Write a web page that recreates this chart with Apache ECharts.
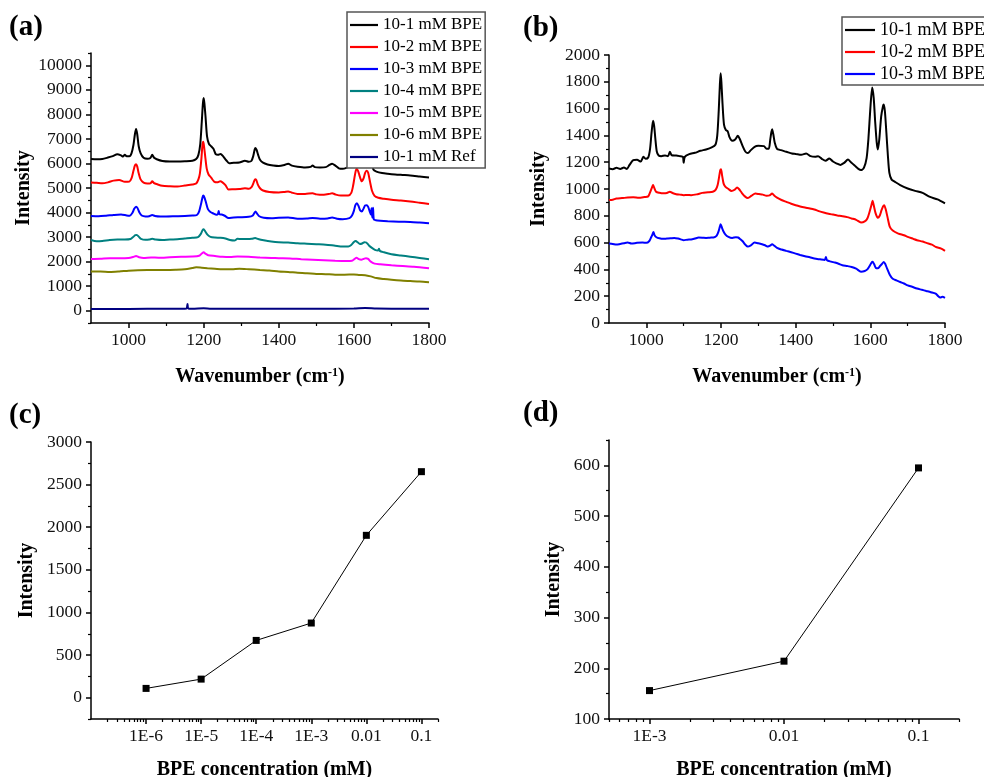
<!DOCTYPE html>
<html><head><meta charset="utf-8">
<script src="https://cdn.jsdelivr.net/npm/echarts@6/dist/echarts.min.js"></script>
<style>html,body{margin:0;padding:0;background:#fff}#c{width:984px;height:777px}</style>
</head><body><div id="c"></div>
<script>
// ---------- Panel (a): SERS spectra, [wavenumber, intensity] ----------
const aNames = ['10-1 mM BPE','10-2 mM BPE','10-3 mM BPE','10-4 mM BPE','10-5 mM BPE','10-6 mM BPE','10-1 mM Ref'];
const a1 = [[900,6177],[915,6170],[930,6180],[945,6240],[958,6300],[970,6380],[980,6330],[985,6280],[990,6350],[995,6290],[1002,6290],[1008,6420],[1013,6750],[1017,7200],[1020,7400],[1023,7200],[1027,6700],[1032,6420],[1040,6230],[1050,6190],[1058,6220],[1063,6350],[1068,6230],[1075,6170],[1090,6100],[1110,6080],[1130,6080],[1150,6090],[1170,6110],[1180,6180],[1186,6350],[1191,6800],[1195,7700],[1198,8450],[1200,8670],[1202,8450],[1205,7900],[1209,7100],[1214,6800],[1220,6700],[1226,6600],[1232,6380],[1238,6350],[1245,6390],[1252,6290],[1260,6130],[1268,6010],[1280,6030],[1295,6040],[1310,6110],[1320,6070],[1327,6100],[1332,6300],[1336,6580],[1338,6630],[1341,6550],[1345,6350],[1350,6150],[1358,6030],[1370,5960],[1385,5920],[1400,5900],[1415,5940],[1425,5990],[1435,5910],[1450,5870],[1470,5840],[1485,5860],[1490,5920],[1496,5850],[1510,5840],[1525,5850],[1535,5940],[1542,5990],[1550,5920],[1560,5800],[1570,5780],[1580,5820],[1590,5900],[1598,6300],[1604,7100],[1608,7450],[1613,7100],[1620,6700],[1627,7000],[1634,7300],[1640,7000],[1646,6200],[1652,5750],[1660,5670],[1675,5610],[1690,5580],[1710,5550],[1730,5530],[1750,5510],[1775,5470],[1800,5430]];
const a2 = [[900,5220],[915,5210],[930,5190],[945,5230],[960,5300],[975,5330],[990,5250],[1002,5260],[1008,5400],[1013,5700],[1017,5920],[1020,5970],[1023,5880],[1027,5600],[1032,5350],[1040,5220],[1050,5180],[1058,5190],[1063,5270],[1068,5200],[1075,5160],[1090,5090],[1110,5070],[1130,5060],[1150,5100],[1170,5140],[1180,5180],[1186,5350],[1190,5600],[1194,6200],[1197,6800],[1199,6880],[1201,6700],[1204,6300],[1208,5800],[1213,5550],[1220,5420],[1228,5260],[1236,5230],[1244,5270],[1250,5230],[1258,5120],[1266,4940],[1280,4950],[1295,4960],[1310,4990],[1320,4970],[1328,5050],[1333,5220],[1337,5360],[1340,5330],[1344,5150],[1350,4990],[1358,4900],[1375,4840],[1400,4820],[1415,4840],[1425,4860],[1435,4810],[1450,4760],[1470,4760],[1490,4790],[1500,4740],[1520,4720],[1535,4760],[1542,4790],[1552,4730],[1565,4690],[1585,4690],[1593,4800],[1598,5100],[1603,5550],[1607,5780],[1611,5700],[1616,5450],[1621,5270],[1626,5400],[1630,5620],[1634,5700],[1638,5620],[1643,5250],[1648,4900],[1655,4680],[1665,4600],[1680,4560],[1700,4520],[1725,4490],[1750,4450],[1775,4400],[1800,4350]];
const a3 = [[900,3860],[920,3850],[940,3870],[960,3900],[980,3920],[995,3880],[1003,3870],[1010,3980],[1015,4150],[1020,4240],[1024,4180],[1029,4000],[1035,3880],[1045,3840],[1055,3850],[1063,3900],[1070,3860],[1085,3840],[1100,3840],[1125,3850],[1150,3860],[1170,3880],[1182,3900],[1188,4050],[1193,4350],[1197,4620],[1199,4690],[1202,4620],[1206,4420],[1211,4150],[1218,4020],[1226,3960],[1234,3910],[1238,3940],[1240,4060],[1242,3930],[1248,3920],[1256,3870],[1266,3780],[1280,3800],[1300,3810],[1320,3830],[1330,3870],[1335,3980],[1338,4040],[1342,3960],[1348,3850],[1360,3790],[1380,3770],[1400,3790],[1425,3800],[1450,3750],[1475,3760],[1490,3780],[1510,3750],[1530,3760],[1542,3800],[1555,3750],[1570,3730],[1588,3770],[1595,3880],[1600,4070],[1604,4300],[1608,4380],[1612,4280],[1617,4080],[1621,4040],[1626,4170],[1630,4290],[1634,4300],[1638,4230],[1642,4050],[1645,3920],[1647,4180],[1649,3800],[1651,4200],[1653,3720],[1658,3690],[1670,3670],[1690,3650],[1720,3630],[1750,3610],[1775,3590],[1800,3560]];
const a4 = [[900,2880],[915,2830],[930,2840],[950,2880],[970,2900],[990,2900],[1005,2920],[1012,3000],[1018,3080],[1022,3090],[1027,3020],[1033,2930],[1045,2890],[1055,2900],[1063,2930],[1072,2900],[1090,2880],[1110,2900],[1130,2910],[1150,2940],[1170,2970],[1185,3000],[1192,3120],[1197,3280],[1200,3320],[1204,3240],[1210,3100],[1218,3010],[1230,2980],[1245,2970],[1258,2940],[1270,2880],[1282,2860],[1290,2930],[1300,2920],[1315,2920],[1328,2930],[1337,2960],[1345,2920],[1360,2870],[1380,2820],[1400,2790],[1425,2780],[1450,2750],[1475,2730],[1500,2710],[1525,2690],[1550,2650],[1570,2620],[1585,2620],[1593,2680],[1600,2800],[1605,2840],[1610,2790],[1616,2720],[1622,2740],[1628,2790],[1633,2780],[1640,2660],[1648,2560],[1656,2480],[1664,2450],[1667,2530],[1669,2440],[1680,2380],[1700,2300],[1725,2250],[1750,2200],[1775,2150],[1800,2100]];
const a5 = [[900,2110],[925,2120],[950,2140],[975,2140],[1000,2150],[1012,2190],[1020,2230],[1028,2180],[1040,2150],[1060,2170],[1080,2160],[1110,2180],[1140,2200],[1170,2210],[1188,2240],[1195,2330],[1200,2380],[1205,2320],[1212,2260],[1230,2230],[1250,2200],[1270,2190],[1290,2210],[1320,2200],[1350,2170],[1380,2150],[1400,2140],[1430,2130],[1460,2100],[1490,2080],[1520,2060],[1550,2040],[1580,2030],[1595,2040],[1602,2110],[1607,2160],[1613,2100],[1620,2080],[1626,2110],[1632,2140],[1638,2110],[1645,2000],[1655,1920],[1670,1890],[1700,1850],[1730,1820],[1760,1790],[1800,1730]];
const a6 = [[900,1600],[925,1600],[950,1580],[975,1600],[1000,1630],[1025,1650],[1050,1660],[1075,1660],[1100,1660],[1125,1670],[1150,1690],[1170,1740],[1180,1770],[1195,1750],[1210,1730],[1230,1710],[1250,1690],[1275,1690],[1295,1710],[1320,1690],[1350,1660],[1375,1640],[1400,1600],[1425,1580],[1450,1550],[1475,1530],[1500,1500],[1525,1490],[1550,1470],[1575,1470],[1600,1480],[1615,1460],[1630,1450],[1645,1400],[1660,1330],[1680,1290],[1700,1260],[1725,1230],[1750,1210],[1775,1190],[1800,1160]];
const a7 = [[900,70],[1000,75],[1100,80],[1150,80],[1155,100],[1157,270],[1159,90],[1170,80],[1200,100],[1220,85],[1300,85],[1400,80],[1500,80],[1600,90],[1630,110],[1660,90],[1700,85],[1800,85]];

// ---------- Panel (b) ----------
const bNames = ['10-1 mM BPE','10-2 mM BPE','10-3 mM BPE'];
const b1 = [[900,1153],[910,1148],[920,1158],[930,1150],[940,1160],[948,1150],[955,1180],[965,1215],[975,1218],[985,1205],[992,1240],[998,1225],[1005,1235],[1010,1300],[1014,1420],[1018,1509],[1021,1470],[1024,1380],[1028,1280],[1033,1250],[1040,1245],[1050,1250],[1058,1245],[1063,1278],[1068,1252],[1080,1250],[1090,1245],[1098,1240],[1100,1195],[1103,1240],[1115,1260],[1130,1270],[1145,1285],[1160,1295],[1175,1310],[1185,1330],[1190,1400],[1194,1589],[1197,1780],[1199,1863],[1201,1800],[1204,1640],[1208,1480],[1213,1440],[1218,1430],[1223,1385],[1230,1360],[1238,1370],[1245,1397],[1250,1375],[1258,1320],[1265,1280],[1272,1268],[1280,1290],[1290,1315],[1300,1322],[1315,1320],[1322,1300],[1328,1300],[1332,1370],[1335,1425],[1337,1445],[1340,1410],[1344,1345],[1350,1300],[1360,1290],[1375,1278],[1390,1265],[1400,1262],[1415,1255],[1428,1265],[1440,1245],[1452,1240],[1460,1245],[1470,1225],[1480,1210],[1490,1228],[1500,1205],[1510,1190],[1520,1180],[1530,1195],[1540,1220],[1548,1200],[1558,1175],[1568,1150],[1575,1141],[1583,1160],[1590,1230],[1595,1380],[1600,1600],[1605,1758],[1609,1680],[1613,1500],[1617,1350],[1620,1295],[1624,1370],[1629,1540],[1634,1620],[1636,1631],[1639,1580],[1643,1420],[1647,1250],[1651,1120],[1657,1070],[1665,1055],[1680,1029],[1700,1004],[1720,986],[1740,971],[1760,941],[1780,922],[1800,892]];
const b2 = [[900,917],[910,920],[920,929],[935,932],[950,936],[965,938],[980,934],[995,940],[1005,945],[1010,975],[1015,1010],[1018,1029],[1021,1010],[1026,980],[1035,972],[1045,968],[1055,970],[1063,980],[1070,970],[1080,961],[1090,958],[1100,954],[1110,955],[1120,954],[1135,960],[1150,971],[1165,975],[1178,980],[1186,995],[1191,1030],[1195,1091],[1198,1140],[1200,1148],[1203,1100],[1207,1040],[1212,1016],[1220,1000],[1228,985],[1237,995],[1243,1011],[1248,1000],[1256,970],[1264,945],[1272,932],[1282,950],[1292,966],[1302,962],[1312,958],[1322,950],[1330,952],[1337,966],[1343,950],[1350,936],[1362,918],[1375,904],[1388,890],[1400,879],[1412,870],[1425,862],[1438,855],[1450,847],[1462,835],[1475,824],[1488,815],[1500,809],[1512,803],[1525,797],[1538,790],[1550,780],[1562,770],[1575,750],[1585,758],[1592,780],[1598,830],[1603,880],[1606,912],[1609,880],[1614,820],[1620,785],[1625,800],[1630,842],[1634,870],[1637,879],[1641,850],[1646,790],[1652,720],[1660,690],[1675,667],[1690,655],[1700,643],[1715,628],[1725,618],[1740,608],[1750,598],[1765,585],[1775,568],[1790,555],[1800,538]];
const b3 = [[900,593],[910,590],[920,585],[930,590],[940,595],[950,600],[960,593],[975,598],[990,600],[1000,598],[1008,612],[1013,640],[1017,665],[1019,680],[1022,655],[1027,640],[1035,632],[1045,628],[1055,630],[1065,632],[1075,635],[1085,630],[1095,622],[1100,618],[1110,622],[1120,623],[1130,630],[1140,638],[1150,637],[1160,635],[1170,637],[1180,638],[1188,650],[1193,680],[1197,720],[1199,737],[1202,715],[1206,687],[1212,660],[1220,643],[1230,635],[1240,640],[1246,638],[1252,625],[1258,610],[1265,585],[1272,570],[1280,580],[1290,600],[1300,595],[1310,588],[1318,580],[1326,570],[1332,578],[1337,588],[1342,578],[1350,560],[1362,548],[1375,538],[1388,528],[1400,518],[1412,508],[1425,498],[1438,490],[1450,481],[1465,475],[1478,470],[1481,493],[1484,468],[1495,458],[1505,451],[1515,442],[1525,431],[1538,425],[1550,418],[1562,405],[1575,383],[1585,388],[1592,400],[1598,425],[1603,450],[1606,457],[1610,440],[1615,410],[1620,408],[1626,425],[1631,440],[1636,456],[1640,440],[1645,405],[1652,360],[1660,330],[1670,318],[1680,306],[1690,295],[1700,281],[1712,270],[1725,257],[1738,248],[1750,239],[1762,230],[1775,219],[1782,200],[1787,190],[1793,195],[1800,187]];

// ---------- Panel (c) and (d): intensity vs concentration ----------
const cConc = [1e-6, 1e-5, 1e-4, 1e-3, 0.01, 0.1];
const cInt  = [109, 218, 672, 876, 1905, 2652];
const dConc = [1e-3, 0.01, 0.1];
const dInt  = [156, 214, 595];

// ---------- Tick values / labels ----------
const wnTicks = [1000, 1200, 1400, 1600, 1800];
const wnMinor = [1100, 1300, 1500, 1700];
const aYTicks = [0,1000,2000,3000,4000,5000,6000,7000,8000,9000,10000];
const aYMinor = [-500,500,1500,2500,3500,4500,5500,6500,7500,8500,9500,10500];
const bYTicks = [0,200,400,600,800,1000,1200,1400,1600,1800,2000];
const bYMinor = [100,300,500,700,900,1100,1300,1500,1700,1900];
const cYTicks = [0,500,1000,1500,2000,2500,3000];
const cYMinor = [-250,250,750,1250,1750,2250,2750];
const dYTicks = [100,200,300,400,500,600];
const dYMinor = [150,250,350,450,550,650];
const cXLabels = ['1E-6','1E-5','1E-4','1E-3','0.01','0.1'];
const dXLabels = ['1E-3','0.01','0.1'];

const colorsA = ['#000000','#ff0000','#0000ff','#008080','#ff00ff','#808000','#000080'];

const FONT = '"Liberation Serif", "Times New Roman", serif';
const LOG = v => Math.log10(v);

function logMinors(lo, hi) {
  const out = [];
  for (let e = Math.floor(Math.log10(lo)) ; e <= Math.ceil(Math.log10(hi)); e++) {
    for (let k = 2; k <= 9; k++) {
      const v = k * Math.pow(10, e);
      if (v >= lo * 0.999 && v <= hi * 1.001) out.push(Math.log10(v));
    }
  }
  return out;
}

function axisPair(isX, gi, min, max, majors, minors, fmt, name, nameGap, extraName) {
  const main = Object.assign({
    type: 'value', gridIndex: gi, min: min, max: max,
    position: isX ? 'bottom' : 'left',
    axisLine: { show: true, onZero: false, lineStyle: { color: '#000', width: 1.5 } },
    axisTick: { show: true, inside: false, length: 5, customValues: majors, lineStyle: { color: '#000', width: 1.5 } },
    axisLabel: { show: true, customValues: majors, formatter: fmt, fontFamily: FONT, fontSize: 17.5, color: '#111', margin: isX ? 8 : 9 },
    splitLine: { show: false },
    name: name, nameLocation: 'middle', nameGap: nameGap,
    nameTextStyle: { fontFamily: FONT, fontWeight: 'bold', fontSize: 20, color: '#000' }
  }, extraName || {});
  const minor = {
    type: 'value', gridIndex: gi, min: min, max: max,
    position: isX ? 'bottom' : 'left',
    axisLine: { show: false, onZero: false },
    axisTick: { show: true, inside: false, length: 3, customValues: minors, lineStyle: { color: '#000', width: 1.2 } },
    axisLabel: { show: false },
    splitLine: { show: false }
  };
  return [main, minor];
}

const numFmt = v => String(v);
const cMajors = cConc.map(LOG);
const dMajors = dConc.map(LOG);
const labFmt = (majors, labels) => v => {
  const i = majors.findIndex(m => Math.abs(m - v) < 1e-6);
  return i >= 0 ? labels[i] : '';
};

const wnName = 'Wavenumber (cm{sup|-1})';
const wnRich = { nameTextStyle: { fontFamily: FONT, fontWeight: 'bold', fontSize: 20, color: '#000',
  rich: { sup: { fontFamily: FONT, fontWeight: 'bold', fontSize: 12, verticalAlign: 'top', color: '#000' } } } };

const cMin = 1e-7, cMax = 0.2, dMin = 5e-4, dMax = 0.2;

const xAxes = [].concat(
  axisPair(true, 0, 900, 1800, wnTicks, wnMinor, numFmt, wnName, 44, wnRich),
  axisPair(true, 1, 900, 1800, wnTicks, wnMinor, numFmt, wnName, 44, wnRich),
  axisPair(true, 2, LOG(cMin), LOG(cMax), cMajors, logMinors(cMin, cMax), labFmt(cMajors, cXLabels), 'BPE concentration (mM)', 41),
  axisPair(true, 3, LOG(dMin), LOG(dMax), dMajors, logMinors(dMin, dMax), labFmt(dMajors, dXLabels), 'BPE concentration (mM)', 41)
);
const yAxes = [].concat(
  axisPair(false, 0, -500, 10500, aYTicks, aYMinor, numFmt, 'Intensity', 57),
  axisPair(false, 1, 0, 2000, bYTicks, bYMinor, numFmt, 'Intensity', 60),
  axisPair(false, 2, -250, 3000, cYTicks, cYMinor, numFmt, 'Intensity', 54),
  axisPair(false, 3, 100, 650, dYTicks, dYMinor, numFmt, 'Intensity', 45)
);

const series = [];
[a1,a2,a3,a4,a5,a6,a7].forEach((d, i) => {
  series.push({ type: 'line', name: aNames[i], xAxisIndex: 0, yAxisIndex: 0, data: d,
    symbol: 'none', showSymbol: false, smooth: 0.25, color: colorsA[i],
    lineStyle: { width: 2, color: colorsA[i] }, z: 3 - i * 0.1 });
});
[b1,b2,b3].forEach((d, i) => {
  series.push({ type: 'line', name: bNames[i], xAxisIndex: 2, yAxisIndex: 2, data: d,
    symbol: 'none', showSymbol: false, smooth: 0.25, color: colorsA[i],
    lineStyle: { width: 2, color: colorsA[i] } });
});
series.push({ type: 'line', name: 'c', xAxisIndex: 4, yAxisIndex: 4,
  data: cConc.map((c, i) => [LOG(c), cInt[i]]),
  symbol: 'rect', symbolSize: 7, itemStyle: { color: '#000' }, lineStyle: { color: '#000', width: 1 } });
series.push({ type: 'line', name: 'd', xAxisIndex: 6, yAxisIndex: 6,
  data: dConc.map((c, i) => [LOG(c), dInt[i]]),
  symbol: 'rect', symbolSize: 7, itemStyle: { color: '#000' }, lineStyle: { color: '#000', width: 1 } });

const legendCommon = {
  orient: 'vertical', icon: 'rect', itemWidth: 28, itemHeight: 2.2, itemGap: 2,
  backgroundColor: '#fff', borderColor: '#555', borderWidth: 1.5, borderRadius: 0,
  selectedMode: false, z: 10
};

const option = {
  animation: false,
  backgroundColor: '#fff',
  grid: [
    { left: 91, top: 53, width: 338, height: 270, outerBoundsMode: 'none' },
    { left: 609, top: 55, width: 336, height: 268, outerBoundsMode: 'none' },
    { left: 91, top: 442, width: 347, height: 277, outerBoundsMode: 'none' },
    { left: 609, top: 440, width: 350, height: 279, outerBoundsMode: 'none' }
  ],
  xAxis: xAxes,
  yAxis: yAxes,
  legend: [
    Object.assign({}, legendCommon, { data: aNames, left: 347, top: 12, padding: [3, 3, 1, 3],
      textStyle: { fontFamily: FONT, fontSize: 17, color: '#000', lineHeight: 20 } }),
    Object.assign({}, legendCommon, { data: bNames, left: 842, top: 17, padding: [3, 2, 1, 3], itemWidth: 30,
      textStyle: { fontFamily: FONT, fontSize: 18, color: '#000', lineHeight: 20 } })
  ],
  graphic: [
    { type: 'text', left: 9, top: 13, style: { text: '(a)', fontFamily: FONT, fontWeight: 'bold', fontSize: 29, fill: '#000' } },
    { type: 'text', left: 523, top: 14, style: { text: '(b)', fontFamily: FONT, fontWeight: 'bold', fontSize: 29, fill: '#000' } },
    { type: 'text', left: 9, top: 401, style: { text: '(c)', fontFamily: FONT, fontWeight: 'bold', fontSize: 29, fill: '#000' } },
    { type: 'text', left: 523, top: 399, style: { text: '(d)', fontFamily: FONT, fontWeight: 'bold', fontSize: 29, fill: '#000' } }
  ],
  series: series
};

const chart = echarts.init(document.getElementById('c'), null, { renderer: 'canvas' });
chart.setOption(option);
</script>
</body></html>
